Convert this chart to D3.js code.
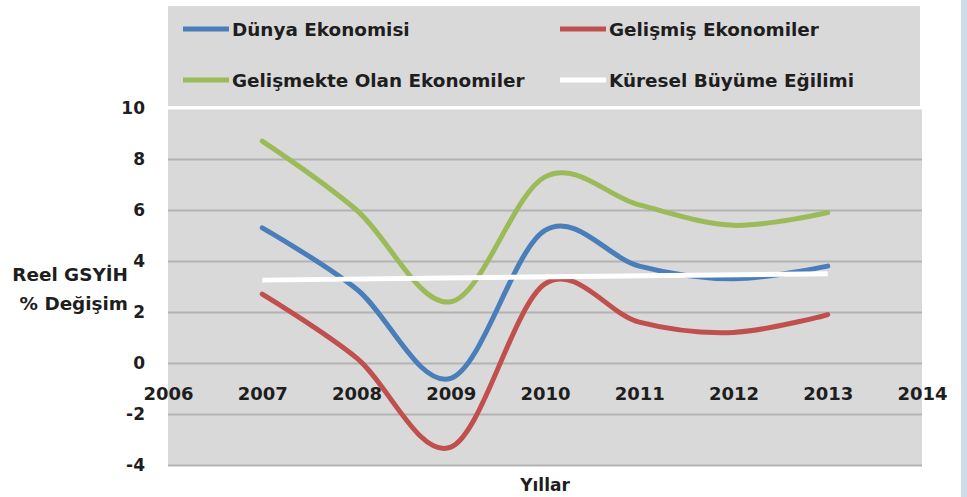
<!DOCTYPE html>
<html>
<head>
<meta charset="utf-8">
<script src="https://cdn.jsdelivr.net/npm/d3@7"></script>
<style>
  body { margin: 0; background: #fff; }
  svg { display: block; font-family: "DejaVu Sans", sans-serif; font-weight: bold; }
</style>
</head>
<body>
<svg id="chart" width="967" height="497"></svg>
<script>
'use strict';

var years = [2007, 2008, 2009, 2010, 2011, 2012, 2013];
var dunya = [5.3, 2.9, -0.6, 5.2, 3.8, 3.3, 3.8];
var gelismis = [2.7, 0.2, -3.3, 3.1, 1.6, 1.2, 1.9];
var gelismekte = [8.7, 6.0, 2.4, 7.3, 6.2, 5.4, 5.9];
var egilimYears = [2007, 2013];
var egilim = [3.25, 3.5];

var xTicks = [2006, 2007, 2008, 2009, 2010, 2011, 2012, 2013, 2014];
var yTicks = [-4, -2, 0, 2, 4, 6, 8, 10];

var series = [
  { name: "Dünya Ekonomisi", color: "#4a7ebb", x: years, y: dunya },
  { name: "Gelişmiş Ekonomiler", color: "#c0504d", x: years, y: gelismis },
  { name: "Gelişmekte Olan Ekonomiler", color: "#9bbb59", x: years, y: gelismekte },
  { name: "Küresel Büyüme Eğilimi", color: "#ffffff", x: egilimYears, y: egilim }
];

var LEFT = 168, RIGHT = 922, TOP = 108, BOTTOM = 465;
var TEXT = "#1e1e1e";

var svg = d3.select("#chart");

var x = d3.scaleLinear().domain([2006, 2014]).range([LEFT, RIGHT]);
var y = d3.scaleLinear().domain([-4, 10]).range([BOTTOM, TOP]);

// side strip
svg.append("rect").attr("x", 961).attr("y", 0).attr("width", 6).attr("height", 497).attr("fill", "#cddce8");

// legend box and plot area
svg.append("rect").attr("x", LEFT).attr("y", 6).attr("width", RIGHT - 2 - LEFT).attr("height", 100).attr("fill", "#d9d9d9");
svg.append("rect").attr("x", LEFT).attr("y", TOP).attr("width", RIGHT - LEFT).attr("height", BOTTOM - TOP).attr("fill", "#d9d9d9");

// gridlines
svg.append("g")
  .attr("transform", "translate(" + LEFT + ",0)")
  .call(d3.axisLeft(y).tickValues(yTicks).tickSize(-(RIGHT - LEFT)).tickFormat(""))
  .call(function(g){
    g.select(".domain").remove();
    g.selectAll(".tick line")
      .attr("stroke", function(d){ return d === 10 ? "#ffffff" : "#b3b3b3"; })
      .attr("stroke-width", 2);
  });

// y tick labels
svg.append("g")
  .attr("transform", "translate(" + LEFT + ",0)")
  .call(d3.axisLeft(y).tickValues(yTicks).tickSize(0).tickPadding(LEFT - 145)
    .tickFormat(function(d){ return String(d); }))
  .call(function(g){
    g.select(".domain").remove();
    g.selectAll("text").attr("font-size", 17).attr("font-family", "DejaVu Sans, sans-serif").attr("font-weight", "bold").attr("fill", TEXT);
  });

// x tick labels (axis at zero)
svg.append("g")
  .attr("transform", "translate(0," + y(0) + ")")
  .call(d3.axisBottom(x).tickValues(xTicks).tickSize(0).tickPadding(24).tickFormat(function(d){ return String(d); }))
  .call(function(g){
    g.select(".domain").remove();
    g.selectAll("text").attr("font-size", 18).attr("font-family", "DejaVu Sans, sans-serif").attr("font-weight", "bold").attr("fill", TEXT);
  });

// lines
var line = d3.line()
  .x(function(d){ return x(d[0]); })
  .y(function(d){ return y(d[1]); })
  .curve(d3.curveCardinal.tension(0));

[2, 1, 0].forEach(function(i){
  var s = series[i];
  var pts = s.x.map(function(v, j){ return [v, s.y[j]]; });
  svg.append("path")
    .datum(pts)
    .attr("d", line)
    .attr("fill", "none")
    .attr("stroke", s.color)
    .attr("stroke-width", 5)
    .attr("stroke-linecap", "round");
});
// trend drawn on top
svg.append("path")
  .datum(egilimYears.map(function(v, j){ return [v, egilim[j]]; }))
  .attr("d", line)
  .attr("fill", "none")
  .attr("stroke", "#ffffff")
  .attr("stroke-width", 5);

// legend
var legendPos = [[183, 29], [560, 29], [183, 80], [560, 80]];
series.forEach(function(s, i){
  var p = legendPos[i];
  var g = svg.append("g").attr("transform", "translate(" + p[0] + "," + p[1] + ")");
  g.append("line").attr("x1", 0).attr("x2", 46).attr("y1", 0).attr("y2", 0)
    .attr("stroke", s.color).attr("stroke-width", 5);
  g.append("text").attr("x", 49).attr("y", 7).attr("font-size", 18.4).attr("fill", TEXT).text(s.name);
});

// axis titles
svg.append("text").attr("x", 128).attr("y", 281).attr("text-anchor", "end").attr("font-size", 18.4).attr("fill", TEXT).text("Reel GSYİH");
svg.append("text").attr("x", 128).attr("y", 310).attr("text-anchor", "end").attr("font-size", 18.4).attr("fill", TEXT).text("% Değişim");
svg.append("text").attr("x", 545).attr("y", 491).attr("text-anchor", "middle").attr("font-size", 17).attr("fill", TEXT).text("Yıllar");
</script>
</body>
</html>
